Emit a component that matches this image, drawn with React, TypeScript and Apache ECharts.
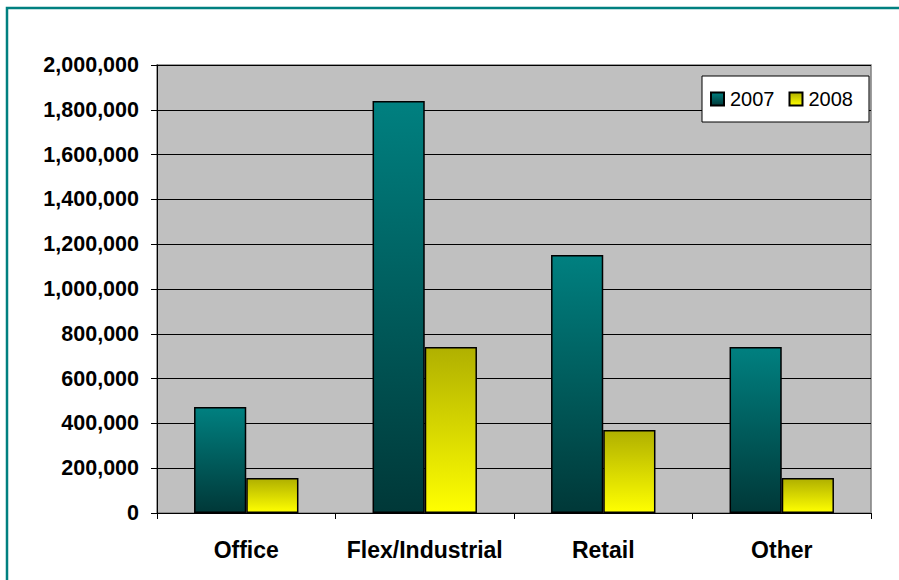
import React, { useEffect, useRef } from "react";
import * as echarts from "echarts";

const categories = ["Office", "Flex/Industrial", "Retail", "Other"];
const series2007 = [473000, 1839000, 1152000, 741000];
const series2008 = [156000, 741000, 370000, 156000];
const seriesNames = ["2007", "2008"];
const yTicks = { min: 0, max: 2000000, interval: 200000 };

const FONT = "Liberation Sans, Arial, sans-serif";

export default function App() {
  const ref = useRef<HTMLDivElement>(null);
  useEffect(() => {
    if (!ref.current) return;
    const chart = echarts.init(ref.current, undefined, { renderer: "svg" });
    const teal = new echarts.graphic.LinearGradient(0, 0, 0, 1, [
      { offset: 0, color: "#008080" },
      { offset: 1, color: "#003838" },
    ]);
    const yellow = new echarts.graphic.LinearGradient(0, 0, 0, 1, [
      { offset: 0, color: "#b0b000" },
      { offset: 1, color: "#ffff00" },
    ]);
    chart.setOption({
      animation: false,
      backgroundColor: "#ffffff",
      textStyle: { fontFamily: FONT },
      graphic: [
        {
          type: "rect",
          shape: { x: 7, y: 8, width: 2000, height: 2000 },
          style: { fill: "none", stroke: "#008080", lineWidth: 2.5 },
          silent: true,
          z: 100,
        },
      ],
      grid: {
        left: 157,
        right: 28,
        top: 65,
        bottom: 67,
        show: true,
        backgroundColor: "#c0c0c0",
        borderColor: "#808080",
        borderWidth: 1.5,
      },
      legend: {
        data: seriesNames,
        left: 702,
        top: 76,
        orient: "horizontal",
        backgroundColor: "#ffffff",
        borderColor: "#000000",
        borderWidth: 1,
        padding: [13, 16, 13, 8],
        itemWidth: 13,
        itemHeight: 13,
        itemGap: 14,
        icon: "rect",
        textStyle: { fontFamily: FONT, fontSize: 20, color: "#000000", padding: [0, 0, 0, 1] },
      },
      xAxis: {
        type: "category",
        data: categories,
        axisLine: { show: true, lineStyle: { color: "#000000", width: 1 } },
        axisTick: { show: true, inside: false, length: 6, lineStyle: { color: "#000000" } },
        axisLabel: {
          interval: 0,
          fontFamily: FONT,
          fontSize: 23,
          fontWeight: "bold",
          color: "#000000",
          margin: 25,
        },
        splitLine: { show: false },
      },
      yAxis: {
        type: "value",
        min: yTicks.min,
        max: yTicks.max,
        interval: yTicks.interval,
        axisLine: { show: true, lineStyle: { color: "#000000", width: 1 } },
        axisTick: { show: true, inside: false, length: 6, lineStyle: { color: "#000000" } },
        axisLabel: {
          fontFamily: FONT,
          fontSize: 21.5,
          fontWeight: "bold",
          color: "#000000",
          margin: 18,
          formatter: (v: number) => v.toLocaleString("en-US"),
        },
        splitLine: { show: true, lineStyle: { color: "#000000", width: 1 } },
      },
      series: [
        {
          name: seriesNames[0],
          type: "bar",
          data: series2007,
          barGap: "0%",
          barCategoryGap: "41.5%",
          itemStyle: { color: teal, borderColor: "#000000", borderWidth: 1.5 },
        },
        {
          name: seriesNames[1],
          type: "bar",
          data: series2008,
          barGap: "0%",
          barCategoryGap: "41.5%",
          itemStyle: { color: yellow, borderColor: "#000000", borderWidth: 1.5 },
        },
      ],
    });
    return () => chart.dispose();
  }, []);
  return (
    <div
      ref={ref}
      style={{ position: "fixed", left: 0, top: 0, width: 899, height: 580 }}
    />
  );
}
